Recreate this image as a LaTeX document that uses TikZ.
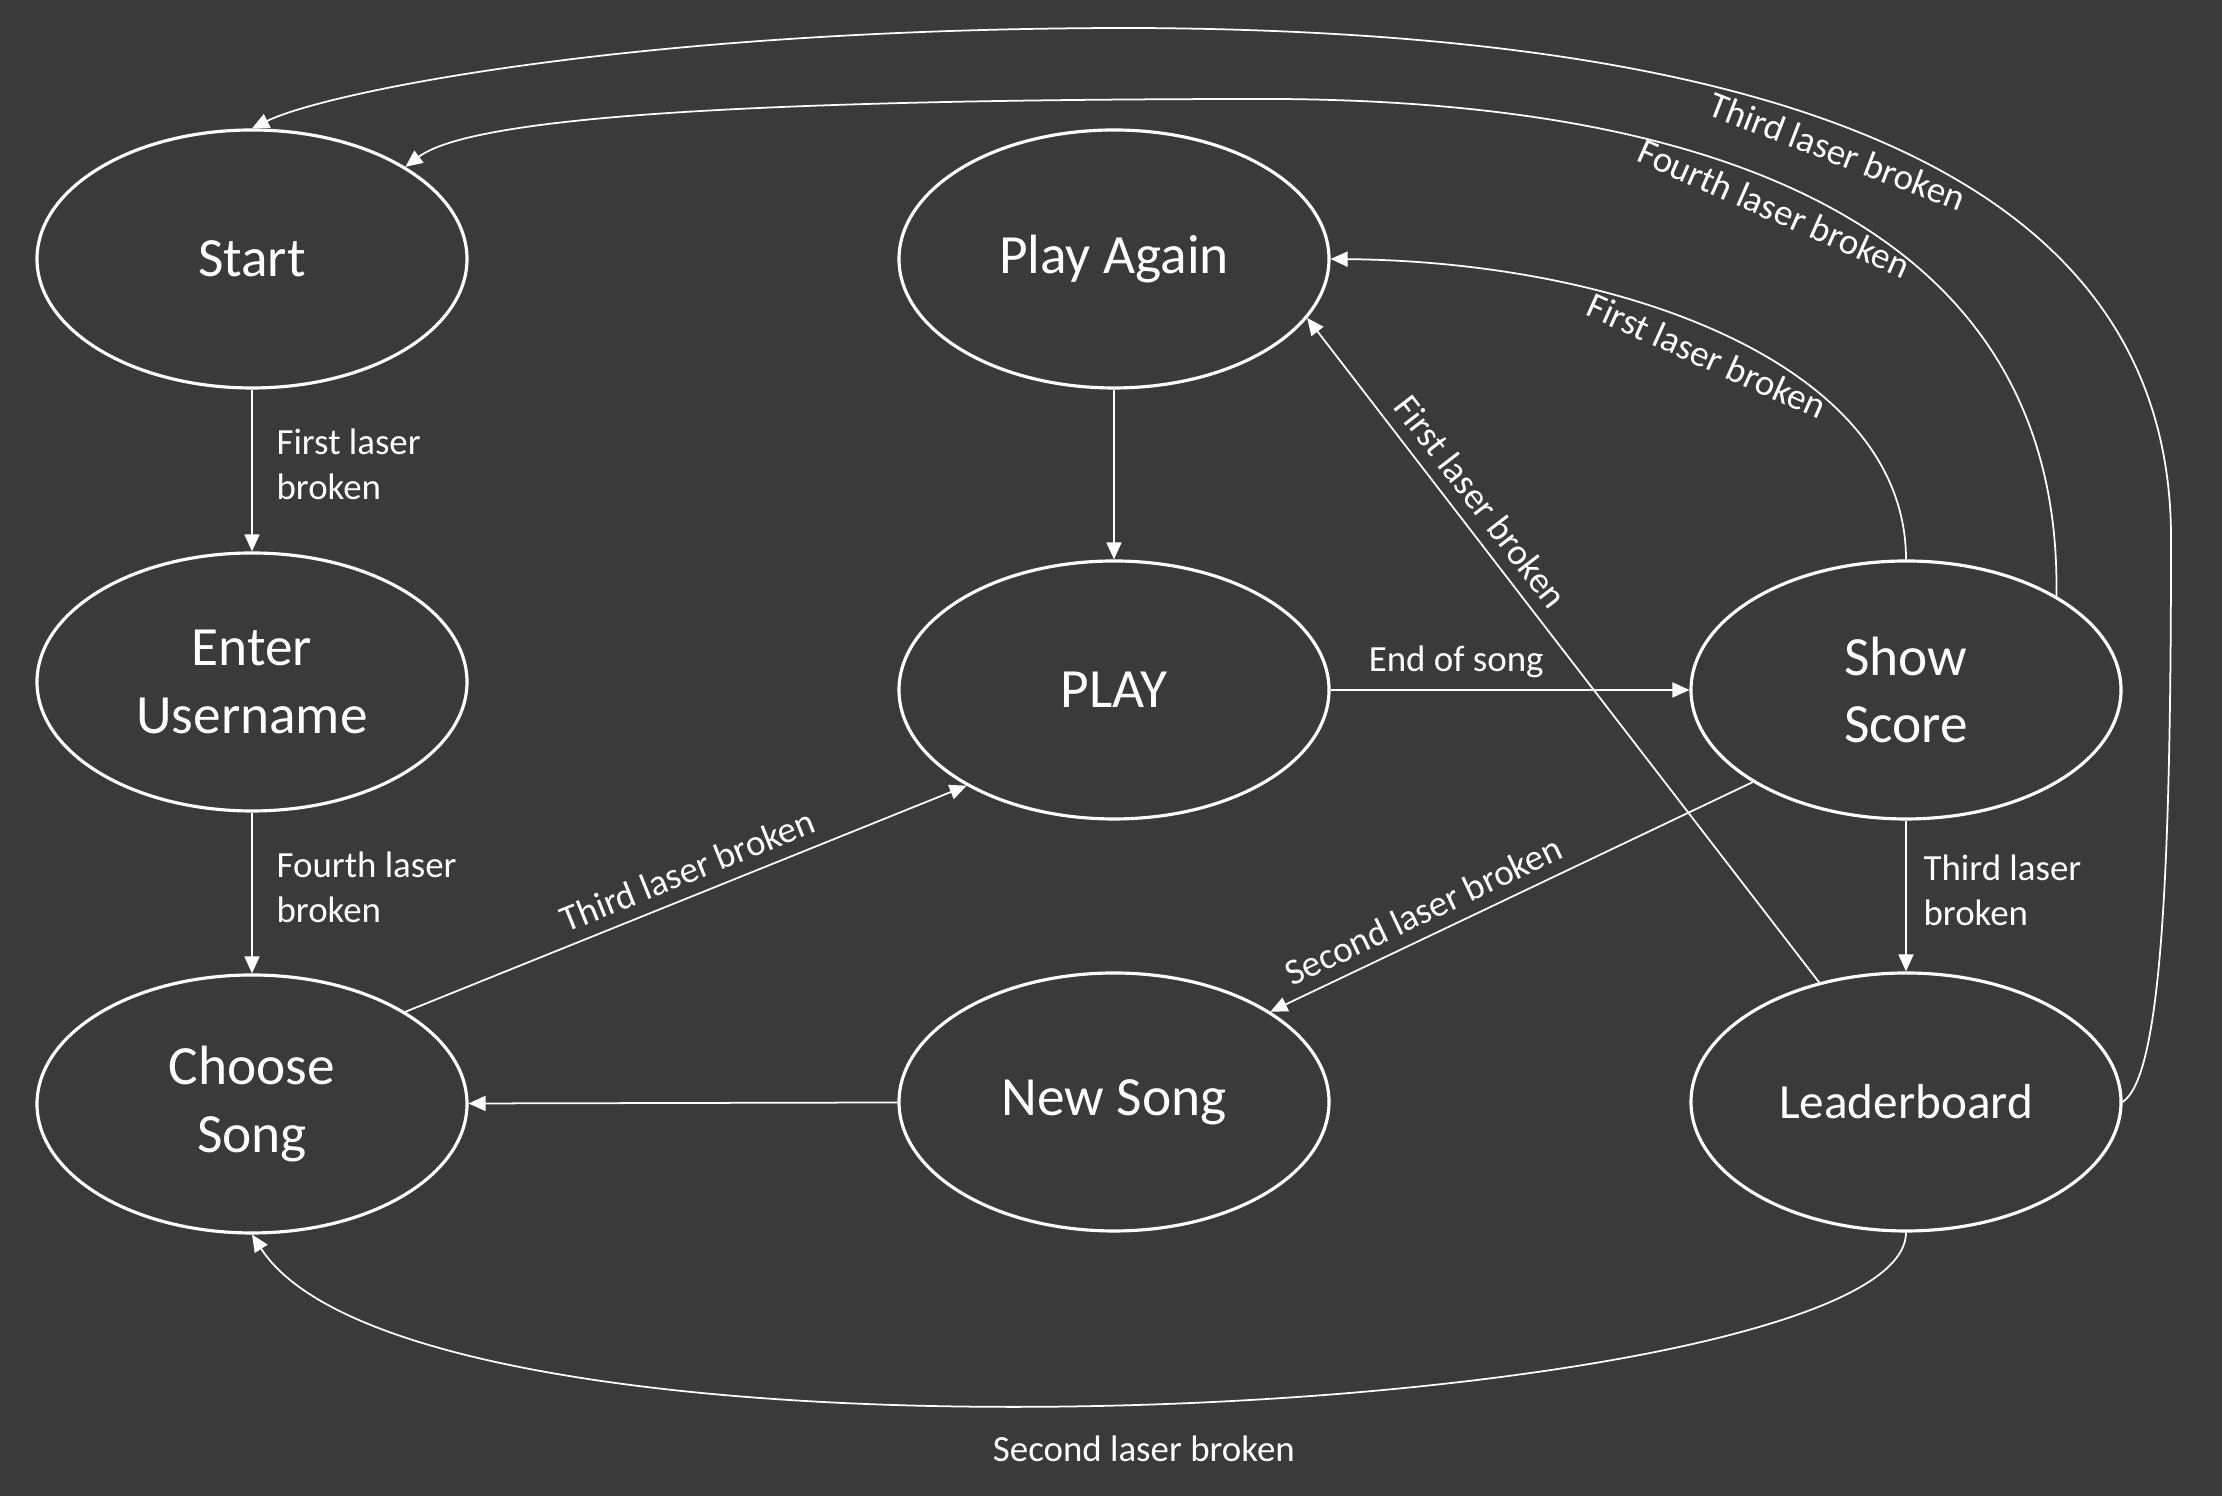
\documentclass[tikz,border=0pt]{standalone}
\usepackage{fontspec}
\setmainfont{Carlito}
\usetikzlibrary{shapes.geometric,arrows.meta}
\definecolor{slate}{HTML}{3A3A3A}

\begin{document}
\begin{tikzpicture}[font=\fontsize{15.75}{19.2}\selectfont, color=white,
  stateoval/.style={ellipse, draw=white, line width=0.9pt, minimum width=4.3cm, minimum height=2.58cm, inner sep=0pt, align=center, text=white},
  arr/.style={draw=white, line width=0.5pt, -{Triangle[length=1.7mm, width=1.5mm]}},
  lasertxt/.style={font=\fontsize{10.5}{12.8}\selectfont, text=white, align=left}]
\path[use as bounding box, fill=slate] (0,0) rectangle (22.22,14.96);
% states
\node[stateoval] (start) at (2.52,12.37) {Start}; \node[stateoval] (enter) at (2.52,8.14) {Enter\\Username};
\node[stateoval] (choose) at (2.52,3.92) {Choose\\Song}; \node[stateoval] (again) at (11.14,12.37) {Play Again};
\node[stateoval] (play) at (11.14,8.06) {PLAY}; \node[stateoval] (newsong) at (11.14,3.94) {New Song};
\node[stateoval] (show) at (19.06,8.06) {Show\\Score}; \node[stateoval, font=\fontsize{14}{17}\selectfont] (lead) at (19.06,3.94) {Leaderboard};
% straight transitions
\draw[arr] (start) -- node[lasertxt, right=1.2mm, yshift=0.6mm] {First laser\\broken} (enter);
\draw[arr] (enter) -- node[lasertxt, right=1.2mm, yshift=0.6mm] {Fourth laser\\broken} (choose);
\draw[arr] (choose.31) -- node[lasertxt, sloped, above, pos=0.52] {Third laser broken} (play.213);
\draw[arr] (newsong) -- (choose); \draw[arr] (again) -- (play);
\draw[arr] (play) -- node[lasertxt, above, pos=0.35] {End of song} (show);
\draw[arr] (show.211) -- node[lasertxt, sloped, above, pos=0.66] {Second laser broken} (newsong.30);
\draw[arr] (show) -- node[lasertxt, right=0.5mm, yshift=0.6mm] {Third laser\\broken} (lead);
\draw[arr] (lead.126) -- node[lasertxt, sloped, above, pos=0.70] {First laser broken} (again.343);
% curved transitions
\draw[arr] (show.north) .. controls (19.06,11.28) and (16.30,12.34) .. node[lasertxt, sloped, below, pos=0.52] {First laser broken} (again.east);
\draw[arr] (show.32) .. controls (20.62,12.13) and (18.14,13.94) .. node[lasertxt, sloped, below, pos=0.6] {Fourth laser broken} (12.75,13.97) .. controls (7.09,13.97) and (4.68,13.76) .. (start.31);
\draw[arr] (lead.east) .. controls (21.61,4.19) and (21.71,6.18) .. (21.71,9.58) .. controls (21.71,13.26) and (17.71,14.65) .. node[lasertxt, sloped, below, pos=0.54] {Third laser broken} (11.34,14.68) .. controls (6.38,14.68) and (3.26,14.04) .. (start.north);
\draw[arr] (lead.south) .. controls (19.06,0.79) and (4.25,-0.06) .. node[lasertxt, below=2mm] {Second laser broken} (choose.south);
\end{tikzpicture}
\end{document}
